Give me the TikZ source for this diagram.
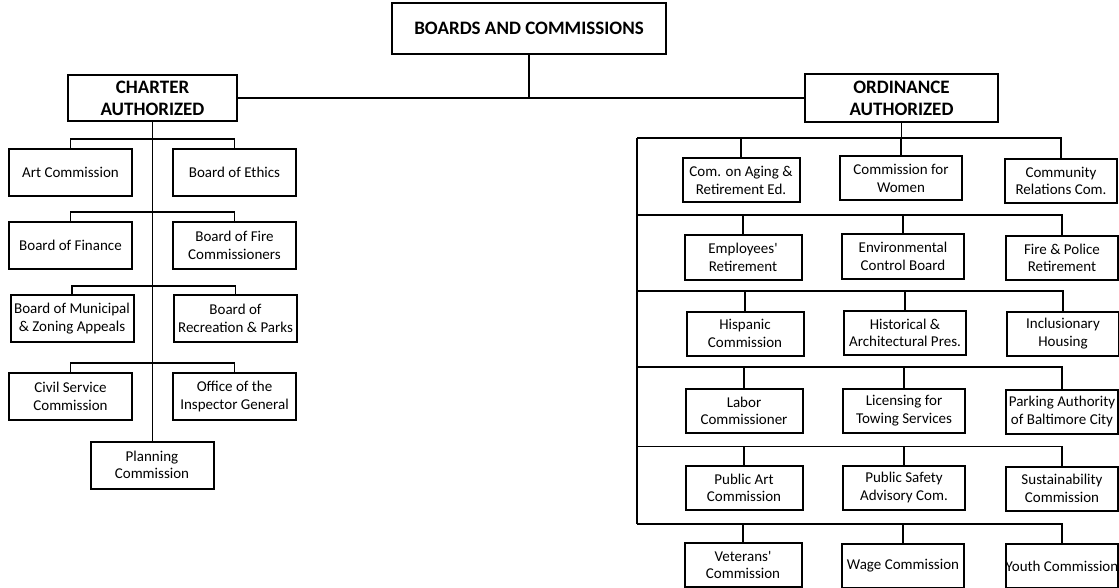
\documentclass[tikz,border=0pt]{standalone}
\usepackage{fontspec}
\setmainfont{Carlito}
\begin{document}
\begin{tikzpicture}[x=1pt,y=-1pt,
  box/.style={draw, line width=2pt, align=center, inner sep=0pt, font=\fontsize{15}{17.5}\selectfont},
  head/.style={draw, line width=2pt, align=center, inner sep=0pt, font=\fontsize{19}{22}\selectfont\bfseries},
  lbox/.style={box, minimum width=123pt, minimum height=47pt},
  ra/.style={box, minimum width=117pt, minimum height=44pt},
  rb/.style={box, minimum width=122pt, minimum height=44pt},
  rc/.style={box, minimum width=112pt, minimum height=44pt},
  conn/.style={line width=1.7pt}]
\useasboundingbox (0,0) rectangle (1119,588);

% top
\node[head, minimum width=274pt, minimum height=51pt] (top) at (529,28.5) {BOARDS AND COMMISSIONS};
\node[head, minimum width=169pt, minimum height=46pt] (charter) at (152.5,98) {CHARTER\\AUTHORIZED};
\node[head, minimum width=193pt, minimum height=48pt] (ord) at (901.5,98) {ORDINANCE\\AUTHORIZED};

% left tree
\node[lbox] (art) at (70.5,172.5) {Art Commission};
\node[lbox] (ethics) at (234.5,172.5) {Board of Ethics};
\node[lbox] (finance) at (70.5,245.5) {Board of Finance};
\node[lbox] (fire) at (234.5,245.5) {Board of Fire\\Commissioners};
\node[lbox] (zoning) at (72,318.5) {Board of Municipal\\\& Zoning Appeals};
\node[lbox] (recparks) at (235.5,318.5) {Board of\\Recreation \& Parks};
\node[lbox] (civil) at (70.5,396.5) {Civil Service\\Commission};
\node[lbox] (oig) at (234.5,396.5) {Office of the\\Inspector General};
\node[lbox] (planning) at (152,465) {Planning\\Commission};

% right tree
\node[ra] (aging) at (741,180.5) {Com. on Aging \&\\Retirement Ed.};
\node[rb] (women) at (901,178.5) {Commission for\\Women};
\node[rc] (comrel) at (1061,181) {Community\\Relations Com.};

\node[ra] (emp) at (743,257.5) {Employees\textquotesingle\\Retirement};
\node[rb] (env) at (903,256.5) {Environmental\\Control Board};
\node[rc] (firepol) at (1062,258) {Fire \& Police\\Retirement};

\node[ra] (hisp) at (745,333.5) {Hispanic\\Commission};
\node[rb] (hist) at (905,333) {Historical \&\\Architectural Pres.};
\node[rc] (incl) at (1063,333.5) {Inclusionary\\Housing};

\node[ra] (labor) at (744,411) {Labor\\Commissioner};
\node[rb] (tow) at (904,410.5) {Licensing for\\Towing Services};
\node[rc] (park) at (1062,411.5) {Parking Authority\\of Baltimore City};

\node[ra] (pubart) at (744,488) {Public Art\\Commission};
\node[rb] (safety) at (904,487.5) {Public Safety\\Advisory Com.};
\node[rc] (sust) at (1062,488.5) {Sustainability\\Commission};

\node[ra] (vet) at (743,565) {Veterans\textquotesingle\\Commission};
\node[rb] (wage) at (903,566) {Wage Commission};
\node[rc] (youth) at (1062,566) {Youth Commission};

% top connectors
\draw[conn] (charter.east) -- (ord.west);
\draw[conn] (top.south) -- (top.south |- charter.east);

% left connectors
\draw[conn] (charter.south) -- (charter.south |- planning.north);
\draw[conn] (art.north) -- ++(0,-9) -| (ethics.north);
\draw[conn] (finance.north) -- ++(0,-9) -| (fire.north);
\draw[conn] (zoning.north) -- ++(0,-8) -| (recparks.north);
\draw[conn] (civil.north) -- ++(0,-9) -| (oig.north);

% right connectors
\coordinate (b1) at (637,138);
\coordinate (b2) at (637,215);
\coordinate (b3) at (637,291);
\coordinate (b4) at (637,367);
\coordinate (b5) at (637,446.5);
\coordinate (b6) at (637,524);
\draw[conn] (ord.south) -- (ord.south |- b1);
\draw[conn] (b1) -- (b6);
\draw[conn] (b1) -| (comrel.north);
\draw[conn] (aging.north) -- (aging.north |- b1);
\draw[conn] (women.north) -- (women.north |- b1);
\draw[conn] (b2) -| (firepol.north);
\draw[conn] (emp.north) -- (emp.north |- b2);
\draw[conn] (env.north) -- (env.north |- b2);
\draw[conn] (b3) -| (incl.north);
\draw[conn] (hisp.north) -- (hisp.north |- b3);
\draw[conn] (hist.north) -- (hist.north |- b3);
\draw[conn] (b4) -| (park.north);
\draw[conn] (labor.north) -- (labor.north |- b4);
\draw[conn] (tow.north) -- (tow.north |- b4);
\draw[conn] (b5) -| (sust.north);
\draw[conn] (pubart.north) -- (pubart.north |- b5);
\draw[conn] (safety.north) -- (safety.north |- b5);
\draw[conn] (b6) -| (youth.north);
\draw[conn] (vet.north) -- (vet.north |- b6);
\draw[conn] (wage.north) -- (wage.north |- b6);
\end{tikzpicture}
\end{document}
